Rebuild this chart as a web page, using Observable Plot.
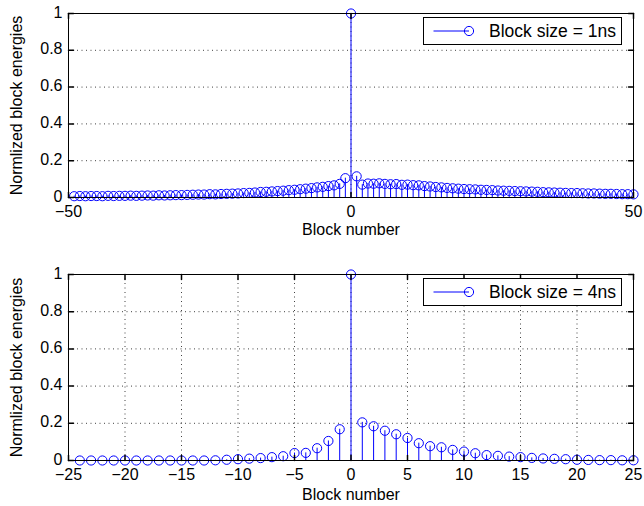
<!DOCTYPE html>
<html><head><meta charset="utf-8">
<script src="https://cdn.jsdelivr.net/npm/d3@7"></script>
<script src="https://cdn.jsdelivr.net/npm/@observablehq/plot@0.6"></script>
<style>
body{margin:0;background:#fff;font-family:"Liberation Sans",Arial,sans-serif;}
#wrap{position:relative;width:644px;height:506px;overflow:hidden;}
.panel{position:relative;width:644px;}
.panel svg{display:block;}
.legend{position:absolute;box-sizing:border-box;border:1px solid #000;background:#fff;display:flex;align-items:center;font-size:17.5px;color:#000;white-space:nowrap;}
.legend svg{display:block;}
</style></head><body>
<div id="wrap"></div>
<script>
// ---- data ----
const blocks1ns = [-49,-48,-47,-46,-45,-44,-43,-42,-41,-40,-39,-38,-37,-36,-35,-34,-33,-32,-31,-30,
  -29,-28,-27,-26,-25,-24,-23,-22,-21,-20,-19,-18,-17,-16,-15,-14,-13,-12,-11,-10,
  -9,-8,-7,-6,-5,-4,-3,-2,-1,0,1,2,3,4,5,6,7,8,9,10,11,12,13,14,15,16,17,18,19,20,
  21,22,23,24,25,26,27,28,29,30,31,32,33,34,35,36,37,38,39,40,41,42,43,44,45,46,47,48,49,50];
const energy1ns = [
  0.007,0.008,0.007,0.008,0.008,0.007,0.009,0.008,0.009,0.009,
  0.010,0.009,0.010,0.011,0.010,0.012,0.011,0.012,0.013,0.013,
  0.014,0.015,0.016,0.016,0.018,0.017,0.019,0.020,0.021,0.022,
  0.024,0.025,0.027,0.030,0.031,0.033,0.035,0.037,0.040,0.042,
  0.045,0.048,0.051,0.055,0.058,0.062,0.066,0.074,0.105,
  1.000,
  0.115,0.070,0.076,0.075,0.077,0.074,0.072,0.073,0.069,0.070,
  0.067,0.066,0.062,0.060,0.057,0.055,0.052,0.050,0.048,0.046,
  0.045,0.044,0.042,0.041,0.040,0.038,0.037,0.036,0.035,0.034,
  0.033,0.032,0.031,0.029,0.028,0.027,0.026,0.025,0.024,0.024,
  0.023,0.022,0.022,0.021,0.020,0.020,0.019,0.018,0.018,0.017];

const blocks4ns = [-24,-23,-22,-21,-20,-19,-18,-17,-16,-15,-14,-13,-12,-11,-10,-9,-8,-7,-6,-5,-4,-3,-2,-1,
  0,1,2,3,4,5,6,7,8,9,10,11,12,13,14,15,16,17,18,19,20,21,22,23,24,25];
const energy4ns = [
  0.000,0.000,0.000,0.000,0.000,0.000,0.000,0.000,0.000,0.000,0.000,0.000,0.001,0.004,0.007,0.010,
  0.013,0.018,0.023,0.040,0.041,0.066,0.105,0.168,
  1.000,
  0.205,0.184,0.160,0.141,0.121,0.093,0.077,0.071,0.057,0.048,0.039,0.029,0.025,0.021,0.018,
  0.014,0.011,0.009,0.007,0.004,0.003,0.002,0.002,0.001,0.001];

const yTicks = [0, 0.2, 0.4, 0.6, 0.8, 1];
const yTickLabels = ["0", "0.2", "0.4", "0.6", "0.8", "1"];
const xTicks1ns = [-50, 0, 50];
const xTicks4ns = [-25, -20, -15, -10, -5, 0, 5, 10, 15, 20, 25];
const xLabel = "Block number";
const yLabel = "Normlized block energies";
const legend1ns = "Block size = 1ns";
const legend4ns = "Block size = 4ns";

const BLUE = "#0000ff";
const tickShape = {draw(ctx, l) { ctx.moveTo(0, 0); ctx.lineTo(0, -l); }};

function panel({blocks, values, xTicks, legendText, height, marginTop, marginBottom, legendTop, xLabelOffset}) {
  const data = blocks.map((b, i) => ({b, v: values[i]}));
  const grid = {stroke: "#000", strokeOpacity: 0.75, strokeDasharray: "1,3.5", strokeWidth: 1};
  const plot = Plot.plot({
    width: 644, height, marginLeft: 68, marginRight: 11, marginTop, marginBottom,
    style: {fontFamily: "'Liberation Sans', Arial, sans-serif", fontSize: "16px", color: "#000", background: "#fff", overflow: "visible"},
    x: {domain: [xTicks[0], xTicks[xTicks.length - 1]]},
    y: {domain: [0, 1]},
    marks: [
      Plot.gridX(xTicks, grid),
      Plot.gridY(yTicks, grid),
      Plot.ruleX(data, {x: "b", y1: 0, y2: "v", stroke: BLUE, strokeWidth: 1}),
      Plot.dot(data, {x: "b", y: "v", r: 4.6, stroke: BLUE, fill: "none", strokeWidth: 1}),
      Plot.frame({stroke: "#000", strokeWidth: 1}),
      // inward ticks on all four sides
      Plot.vector(xTicks, {x: d => d, frameAnchor: "bottom", rotate: 0, length: 5, anchor: "start", shape: tickShape, stroke: "#000"}),
      Plot.vector(xTicks, {x: d => d, frameAnchor: "top", rotate: 180, length: 5, anchor: "start", shape: tickShape, stroke: "#000"}),
      Plot.vector(yTicks, {y: d => d, frameAnchor: "left", rotate: 90, length: 5, anchor: "start", shape: tickShape, stroke: "#000"}),
      Plot.vector(yTicks, {y: d => d, frameAnchor: "right", rotate: -90, length: 5, anchor: "start", shape: tickShape, stroke: "#000"}),
      Plot.axisX(xTicks, {anchor: "bottom", tickSize: 0, tickPadding: 8, label: xLabel, labelAnchor: "center", labelArrow: "none", labelOffset: xLabelOffset}),
      Plot.axisY(yTicks, {anchor: "left", tickSize: 0, tickPadding: 6, dy: -1, tickFormat: (d, i) => yTickLabels[i], label: yLabel, labelAnchor: "center", labelArrow: "none", labelOffset: 58})
    ]
  });
  const div = document.createElement("div");
  div.className = "panel";
  div.appendChild(plot);
  const lg = document.createElement("div");
  lg.className = "legend";
  lg.style.left = "423px";
  lg.style.top = legendTop + "px";
  lg.style.width = "199px";
  lg.style.height = "28px";
  lg.innerHTML = `<svg width="50" height="26"><line x1="9.5" y1="13" x2="45" y2="13" stroke="${BLUE}"/><circle cx="45" cy="13" r="4.6" fill="none" stroke="${BLUE}"/></svg><span></span>`;
  lg.querySelector("span").textContent = legendText;
  lg.querySelector("svg").style.marginRight = "15px";
  div.appendChild(lg);
  return div;
}

const wrap = document.getElementById("wrap");
wrap.appendChild(panel({blocks: blocks1ns, values: energy1ns, xTicks: xTicks1ns, legendText: legend1ns, height: 245, marginTop: 13, marginBottom: 48, legendTop: 17, xLabelOffset: 37}));
wrap.appendChild(panel({blocks: blocks4ns, values: energy4ns, xTicks: xTicks4ns, legendText: legend4ns, height: 261, marginTop: 29, marginBottom: 46, legendTop: 33, xLabelOffset: 39}));
</script>
</body></html>
